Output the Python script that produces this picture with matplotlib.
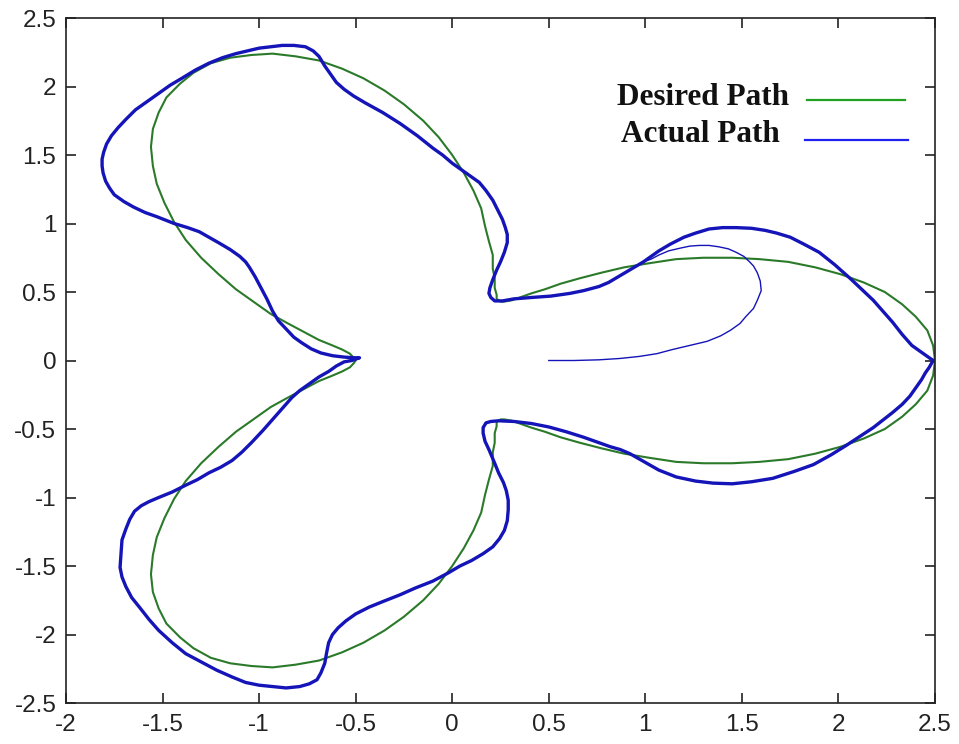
import matplotlib.pyplot as plt
from matplotlib.lines import Line2D

# Desired path (green), (x, y), counter-clockwise from the right tip
desired_path = [
    (2.50, 0.00), (2.49, 0.11), (2.46, 0.22), (2.40, 0.32), (2.33, 0.41), (2.24, 0.50),
    (2.13, 0.57), (2.01, 0.63), (1.88, 0.68), (1.74, 0.72), (1.59, 0.74), (1.45, 0.75),
    (1.30, 0.75), (1.16, 0.74), (1.02, 0.71), (0.89, 0.68), (0.77, 0.64), (0.66, 0.60),
    (0.56, 0.56), (0.48, 0.52), (0.41, 0.49), (0.35, 0.46), (0.31, 0.44), (0.27, 0.43),
    (0.25, 0.43), (0.23, 0.45), (0.23, 0.48), (0.22, 0.53), (0.22, 0.60), (0.21, 0.67),
    (0.21, 0.77), (0.19, 0.87), (0.17, 0.98), (0.15, 1.11), (0.11, 1.24), (0.06, 1.37),
    (0.00, 1.50), (-0.07, 1.63), (-0.15, 1.75), (-0.25, 1.87), (-0.35, 1.97), (-0.46, 2.06),
    (-0.57, 2.13), (-0.69, 2.19), (-0.81, 2.22), (-0.93, 2.24), (-1.04, 2.23), (-1.15, 2.21),
    (-1.25, 2.17), (-1.34, 2.10), (-1.41, 2.02), (-1.48, 1.92), (-1.52, 1.81), (-1.55, 1.69),
    (-1.56, 1.56), (-1.55, 1.42), (-1.53, 1.29), (-1.49, 1.15), (-1.44, 1.01), (-1.38, 0.88),
    (-1.30, 0.75), (-1.21, 0.63), (-1.12, 0.52), (-1.03, 0.43), (-0.94, 0.34), (-0.85, 0.27),
    (-0.77, 0.21), (-0.69, 0.15), (-0.62, 0.11), (-0.57, 0.08), (-0.53, 0.05), (-0.51, 0.02),
    (-0.50, 0.00),
    (-0.51, -0.02), (-0.53, -0.05), (-0.57, -0.08), (-0.62, -0.11), (-0.69, -0.15), (-0.77, -0.21),
    (-0.85, -0.27), (-0.94, -0.34), (-1.03, -0.43), (-1.12, -0.52), (-1.21, -0.63), (-1.30, -0.75),
    (-1.38, -0.88), (-1.44, -1.01), (-1.49, -1.15), (-1.53, -1.29), (-1.55, -1.42), (-1.56, -1.56),
    (-1.55, -1.69), (-1.52, -1.81), (-1.48, -1.92), (-1.41, -2.02), (-1.34, -2.10), (-1.25, -2.17),
    (-1.15, -2.21), (-1.04, -2.23), (-0.93, -2.24), (-0.81, -2.22), (-0.69, -2.19), (-0.57, -2.13),
    (-0.46, -2.06), (-0.35, -1.97), (-0.25, -1.87), (-0.15, -1.75), (-0.07, -1.63), (0.00, -1.50),
    (0.06, -1.37), (0.11, -1.24), (0.15, -1.11), (0.17, -0.98), (0.19, -0.87), (0.21, -0.77),
    (0.21, -0.67), (0.22, -0.60), (0.22, -0.53), (0.23, -0.48), (0.23, -0.45), (0.25, -0.43),
    (0.27, -0.43), (0.31, -0.44), (0.35, -0.46), (0.41, -0.49), (0.48, -0.52), (0.56, -0.56),
    (0.66, -0.60), (0.77, -0.64), (0.89, -0.68), (1.02, -0.71), (1.16, -0.74), (1.30, -0.75),
    (1.45, -0.75), (1.59, -0.74), (1.74, -0.72), (1.88, -0.68), (2.01, -0.63), (2.13, -0.57),
    (2.24, -0.50), (2.33, -0.41), (2.40, -0.32), (2.46, -0.22), (2.49, -0.11), (2.50, 0.00),
]

# Actual path, steady loop (thick blue)
actual_path = [
    (2.49, 0.00), (2.46, 0.03), (2.43, 0.06), (2.38, 0.11), (2.33, 0.19), (2.28, 0.28),
    (2.23, 0.36), (2.18, 0.44), (2.12, 0.52), (2.06, 0.60), (1.98, 0.70), (1.90, 0.79),
    (1.82, 0.85), (1.75, 0.90), (1.68, 0.93), (1.62, 0.95), (1.55, 0.965), (1.47, 0.97),
    (1.40, 0.97), (1.33, 0.96), (1.26, 0.93), (1.20, 0.90), (1.13, 0.85), (1.07, 0.80),
    (1.03, 0.76), (0.99, 0.72), (0.93, 0.67), (0.87, 0.62), (0.81, 0.57), (0.76, 0.54),
    (0.68, 0.51), (0.61, 0.49), (0.51, 0.47), (0.41, 0.46), (0.32, 0.45), (0.26, 0.435),
    (0.22, 0.435), (0.20, 0.46), (0.19, 0.49), (0.195, 0.53), (0.21, 0.59), (0.23, 0.66),
    (0.25, 0.72), (0.27, 0.79), (0.285, 0.86), (0.285, 0.92), (0.275, 0.97), (0.26, 1.03),
    (0.235, 1.10), (0.21, 1.17), (0.175, 1.24), (0.14, 1.30), (0.09, 1.35), (0.05, 1.39),
    (0.00, 1.44), (-0.05, 1.50), (-0.10, 1.55), (-0.18, 1.64), (-0.27, 1.73), (-0.36, 1.81),
    (-0.45, 1.88), (-0.51, 1.93), (-0.56, 1.98), (-0.60, 2.03), (-0.63, 2.09), (-0.66, 2.15),
    (-0.69, 2.22), (-0.72, 2.26), (-0.76, 2.29), (-0.82, 2.30), (-0.88, 2.30), (-0.94, 2.29),
    (-1.00, 2.28), (-1.06, 2.26), (-1.12, 2.24), (-1.19, 2.21), (-1.26, 2.17), (-1.33, 2.12),
    (-1.40, 2.06), (-1.46, 2.01), (-1.52, 1.95), (-1.58, 1.89), (-1.64, 1.83), (-1.69, 1.76),
    (-1.73, 1.70), (-1.765, 1.64), (-1.79, 1.58), (-1.805, 1.52), (-1.813, 1.47), (-1.813, 1.42),
    (-1.808, 1.37), (-1.795, 1.31), (-1.775, 1.26), (-1.75, 1.21), (-1.70, 1.16), (-1.65, 1.12),
    (-1.59, 1.08), (-1.53, 1.05), (-1.44, 1.00), (-1.37, 0.97), (-1.31, 0.94), (-1.26, 0.90),
    (-1.21, 0.86), (-1.15, 0.81), (-1.10, 0.76), (-1.07, 0.72), (-1.05, 0.68), (-1.02, 0.61),
    (-0.99, 0.53), (-0.96, 0.45), (-0.93, 0.36), (-0.90, 0.29), (-0.86, 0.23), (-0.82, 0.17),
    (-0.78, 0.13), (-0.73, 0.085), (-0.68, 0.055), (-0.62, 0.035), (-0.56, 0.025), (-0.51, 0.02),
    (-0.48, 0.02), (-0.52, 0.00), (-0.56, -0.01), (-0.60, -0.04), (-0.64, -0.08), (-0.69, -0.12),
    (-0.73, -0.16), (-0.79, -0.22), (-0.83, -0.27), (-0.88, -0.35), (-0.93, -0.43), (-0.98, -0.51),
    (-1.04, -0.60), (-1.09, -0.67), (-1.14, -0.73), (-1.20, -0.78), (-1.26, -0.82), (-1.32, -0.87),
    (-1.38, -0.91), (-1.45, -0.96), (-1.52, -1.00), (-1.57, -1.03), (-1.61, -1.06), (-1.645, -1.10),
    (-1.67, -1.16), (-1.69, -1.23), (-1.71, -1.31), (-1.715, -1.41), (-1.72, -1.51), (-1.71, -1.58),
    (-1.69, -1.65), (-1.66, -1.73), (-1.62, -1.80), (-1.57, -1.89), (-1.52, -1.97), (-1.45, -2.06),
    (-1.38, -2.14), (-1.30, -2.20), (-1.22, -2.26), (-1.14, -2.31), (-1.07, -2.35), (-1.00, -2.37),
    (-0.93, -2.38), (-0.86, -2.39), (-0.79, -2.38), (-0.74, -2.36), (-0.70, -2.33), (-0.68, -2.28),
    (-0.66, -2.21), (-0.65, -2.13), (-0.64, -2.06), (-0.62, -2.00), (-0.59, -1.95), (-0.55, -1.90),
    (-0.50, -1.85), (-0.43, -1.80), (-0.36, -1.76), (-0.27, -1.71), (-0.19, -1.66), (-0.10, -1.61),
    (-0.02, -1.55), (0.04, -1.50), (0.10, -1.46), (0.16, -1.41), (0.21, -1.36), (0.245, -1.30),
    (0.27, -1.24), (0.285, -1.17), (0.29, -1.09), (0.29, -1.02), (0.28, -0.95), (0.265, -0.89),
    (0.24, -0.82), (0.22, -0.75), (0.19, -0.65), (0.17, -0.59), (0.16, -0.53), (0.16, -0.49),
    (0.175, -0.455), (0.20, -0.445), (0.24, -0.44), (0.32, -0.445), (0.41, -0.46), (0.50, -0.485),
    (0.59, -0.52), (0.68, -0.56), (0.76, -0.60), (0.82, -0.63), (0.87, -0.65), (0.92, -0.68),
    (0.97, -0.72), (1.02, -0.76), (1.07, -0.80), (1.16, -0.85), (1.26, -0.88), (1.35, -0.895),
    (1.45, -0.90), (1.55, -0.885), (1.66, -0.86), (1.77, -0.81), (1.87, -0.76), (1.96, -0.69),
    (2.04, -0.62), (2.11, -0.555), (2.18, -0.49), (2.23, -0.435), (2.28, -0.38), (2.33, -0.32),
    (2.37, -0.26), (2.40, -0.20), (2.43, -0.14), (2.45, -0.09), (2.47, -0.05), (2.49, 0.00),
]

# Actual path, start-up transient (thin blue) from (0.5, 0)
start_path = [
    (0.50, 0.00), (0.63, 0.00), (0.76, 0.005), (0.87, 0.015), (0.97, 0.03), (1.06, 0.05),
    (1.14, 0.08), (1.23, 0.11), (1.32, 0.14), (1.39, 0.18), (1.44, 0.22), (1.49, 0.27),
    (1.52, 0.32), (1.56, 0.38), (1.58, 0.44), (1.60, 0.51), (1.595, 0.58), (1.58, 0.64),
    (1.56, 0.69), (1.54, 0.72), (1.51, 0.76), (1.47, 0.79), (1.43, 0.815), (1.38, 0.83),
    (1.33, 0.84), (1.28, 0.84), (1.23, 0.835), (1.18, 0.82), (1.12, 0.80), (1.07, 0.77),
    (1.03, 0.74), (0.99, 0.72), (0.93, 0.67), (0.87, 0.62),
]

x_ticks = [-2, -1.5, -1, -0.5, 0, 0.5, 1, 1.5, 2, 2.5]
y_ticks = [-2.5, -2, -1.5, -1, -0.5, 0, 0.5, 1, 1.5, 2, 2.5]
tick_labels_x = ['-2', '-1.5', '-1', '-0.5', '0', '0.5', '1', '1.5', '2', '2.5']
tick_labels_y = ['-2.5', '-2', '-1.5', '-1', '-0.5', '0', '0.5', '1', '1.5', '2', '2.5']
legend_labels = ['Desired Path', 'Actual Path']

green = '#2a7a2a'
blue = '#1414b8'

fig = plt.figure(figsize=(9.59, 7.44), dpi=100)
ax = fig.add_axes([0.0688, 0.0551, 0.9062, 0.9207])

dx, dy = zip(*desired_path)
axx, axy = zip(*actual_path)
sx, sy = zip(*start_path)
ax.plot(dx, dy, color=green, linewidth=1.5)
ax.plot(axx, axy, color=blue, linewidth=2.4)
ax.plot(sx, sy, color=blue, linewidth=1.0)

ax.set_xlim(-2, 2.5)
ax.set_ylim(-2.5, 2.5)
ax.set_xticks(x_ticks)
ax.set_yticks(y_ticks)
ax.set_xticklabels(tick_labels_x, fontfamily='Liberation Sans', fontsize=17.5)
ax.set_yticklabels(tick_labels_y, fontfamily='Liberation Sans', fontsize=17.5)
ax.tick_params(direction='in', length=7, width=1.2, top=True, right=True, colors='#222222')
ax.tick_params(axis='x', pad=8)
ax.tick_params(axis='y', pad=7)
for side in ax.spines.values():
    side.set_linewidth(1.2)
    side.set_color('#222222')

# legend drawn by hand: left-aligned text, short line to the right
legend_font = dict(family='Liberation Serif', weight='bold', size=22.5, color='#111111')
ax.text(0.634, 0.873, legend_labels[0], transform=ax.transAxes, va='baseline', **legend_font)
ax.text(0.639, 0.819, legend_labels[1], transform=ax.transAxes, va='baseline', **legend_font)
ax.add_line(Line2D([0.853, 0.965], [0.880, 0.880], transform=ax.transAxes,
                   color='#22a022', linewidth=1.6))
ax.add_line(Line2D([0.850, 0.969], [0.822, 0.822], transform=ax.transAxes,
                   color='#2020f0', linewidth=1.6))

fig.savefig('out.png', dpi=100)
